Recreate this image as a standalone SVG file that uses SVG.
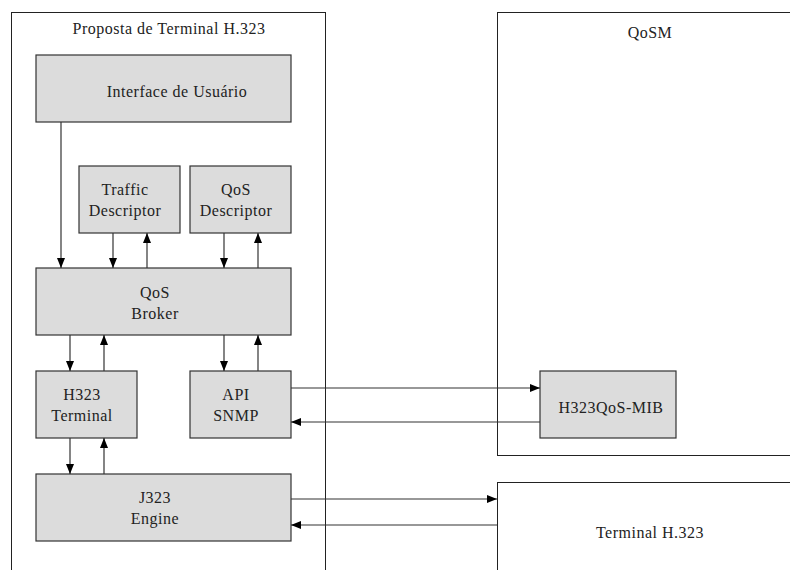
<svg xmlns="http://www.w3.org/2000/svg" width="790" height="570" viewBox="0 0 790 570">
<defs>
<marker id="ah" viewBox="0 0 10 8" refX="10" refY="4" markerWidth="10" markerHeight="8" markerUnits="userSpaceOnUse" orient="auto">
<path d="M0,0 L10,4 L0,8 Z" fill="#000"/>
</marker>
</defs>
<style>
.frame{fill:#fff;stroke:#222;stroke-width:1}
.box{fill:#dcdcdc;stroke:#333;stroke-width:1.2}
.t{font-family:"Liberation Serif","Times New Roman",serif;font-size:16px;letter-spacing:0.5px;fill:#222;text-anchor:middle}
.c{stroke:#333;stroke-width:1.2;fill:none;marker-end:url(#ah)}
</style>
<rect width="790" height="570" fill="#fff"/>
<g id="terminal-proposta">
<rect class="frame" x="11.5" y="12.5" width="314" height="570"/>
<text class="t" x="169" y="34">Proposta de Terminal H.323</text>
</g>
<g id="qosm">
<rect class="frame" x="497.5" y="12.5" width="310" height="443"/>
<text class="t" x="650" y="38">QoSM</text>
</g>
<g id="terminal-h323">
<rect class="frame" x="497.5" y="482.5" width="310" height="100"/>
<text class="t" x="650" y="538">Terminal H.323</text>
</g>
<g id="interface">
<rect class="box" x="36" y="55" width="255" height="67"/>
<text class="t" x="177" y="97">Interface de Usuário</text>
</g>
<g id="traffic">
<rect class="box" x="79" y="166" width="101" height="67"/>
<text class="t" x="125" y="195">Traffic</text>
<text class="t" x="125" y="216">Descriptor</text>
</g>
<g id="qos-desc">
<rect class="box" x="190" y="166" width="101" height="67"/>
<text class="t" x="236" y="195">QoS</text>
<text class="t" x="236" y="216">Descriptor</text>
</g>
<g id="broker">
<rect class="box" x="36" y="268" width="255" height="67"/>
<text class="t" x="155" y="298">QoS</text>
<text class="t" x="155" y="319">Broker</text>
</g>
<g id="h323-terminal">
<rect class="box" x="36" y="371" width="101" height="67"/>
<text class="t" x="82" y="400">H323</text>
<text class="t" x="82" y="421">Terminal</text>
</g>
<g id="api-snmp">
<rect class="box" x="190" y="371" width="101" height="67"/>
<text class="t" x="236" y="400">API</text>
<text class="t" x="236" y="421">SNMP</text>
</g>
<g id="j323">
<rect class="box" x="36" y="474" width="255" height="67"/>
<text class="t" x="155" y="503">J323</text>
<text class="t" x="155" y="524">Engine</text>
</g>
<g id="mib">
<rect class="box" x="540" y="371" width="136" height="67"/>
<text class="t" x="611" y="413">H323QoS-MIB</text>
</g>
<g id="connectors">
<line class="c" x1="61" y1="122" x2="61" y2="268"/>
<line class="c" x1="113" y1="233" x2="113" y2="268"/>
<line class="c" x1="147" y1="268" x2="147" y2="233"/>
<line class="c" x1="224" y1="233" x2="224" y2="268"/>
<line class="c" x1="258" y1="268" x2="258" y2="233"/>
<line class="c" x1="70" y1="335" x2="70" y2="371"/>
<line class="c" x1="104" y1="371" x2="104" y2="335"/>
<line class="c" x1="224" y1="335" x2="224" y2="371"/>
<line class="c" x1="258" y1="371" x2="258" y2="335"/>
<line class="c" x1="70" y1="438" x2="70" y2="474"/>
<line class="c" x1="104" y1="474" x2="104" y2="438"/>
<line class="c" x1="291" y1="388" x2="540" y2="388"/>
<line class="c" x1="540" y1="422" x2="291" y2="422"/>
<line class="c" x1="291" y1="499" x2="497" y2="499"/>
<line class="c" x1="497" y1="525" x2="291" y2="525"/>
</g>
</svg>
